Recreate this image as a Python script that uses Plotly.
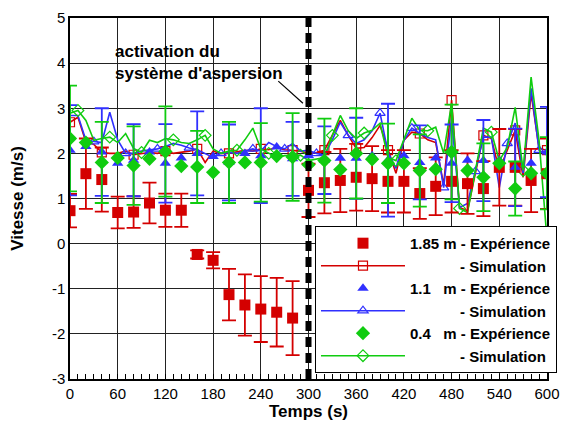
import plotly.graph_objects as go

# ---------------- data ----------------
t_exp = list(range(0, 601, 20))
t_err = list(range(0, 601, 40))
t_sim = list(range(0, 601, 10))

red_exp = [0.73, 1.55, 1.42, 0.69, 0.70, 0.90, 0.74, 0.74, -0.24, -0.37, -1.13, -1.36, -1.45, -1.52, -1.65,
           1.18, 1.35, 1.40, 1.47, 1.44, 1.38, 1.38, 1.11, 1.27, 1.38, 1.33, 1.22, 1.69, 1.69, 1.40, 1.55]
red_err = [0.37, 0.78, 0.71, 0.35, 0.35, 0.45, 0.37, 0.37, 0.09, 0.18, 0.57, 0.68, 0.73, 0.76, 0.82,
           0.59, 0.68, 0.70, 0.74, 0.72, 0.69, 0.69, 0.56, 0.64, 0.69, 0.67, 0.61, 0.85, 0.85, 0.70, 0.78]

blue_exp = [2.07, 2.15, 2.03, 1.78, 1.85, 2.03, 1.78, 1.90, 2.00, 1.93, 1.80, 2.00, 1.95, 2.14, 1.88,
            1.95, 1.85, 1.89, 1.89, 1.95, 1.85, 1.95, 1.80, 1.90, 1.78, 1.85, 1.84, 1.85, 1.69, 1.78, 2.03]
blue_err_y = [2.07, 2.03, 1.85, 1.78, 2.00, 1.80, 1.95, 1.88, 1.85, 1.89, 1.85, 1.80, 1.78, 1.84, 1.69, 2.03]
blue_err = [1.00, 0.97, 0.80, 0.87, 0.93, 0.84, 1.05, 0.82, 0.75, 0.90, 1.25, 0.82, 0.86, 0.90, 0.86, 1.00]

green_exp = [2.33, 2.24, 1.80, 1.90, 1.73, 1.88, 2.04, 1.72, 1.70, 1.58, 1.80, 1.80, 1.80, 1.94, 1.92,
             1.75, 1.84, 1.64, 2.00, 1.87, 1.78, 1.78, 1.62, 1.65, 2.03, 1.62, 1.47, 1.78, 1.22, 1.56, 1.56]
green_err_y = [2.33, 1.80, 1.73, 2.04, 1.70, 1.80, 1.80, 1.92, 1.84, 2.00, 1.78, 1.62, 2.03, 1.47, 1.22, 1.56]
green_err = [1.17, 0.90, 0.87, 1.00, 0.80, 0.90, 0.87, 0.97, 0.93, 1.00, 0.88, 0.80, 1.05, 0.75, 0.60, 0.80]

red_sim = [2.69, 2.80, 2.25, 2.20, 2.02, 2.00, 2.00, 2.05, 1.97, 2.00, 2.02, 2.00, 2.05, 2.00, 2.02, 2.05,
           2.10, 1.80, 2.05, 2.00, 2.00, 2.03, 2.07, 2.05, 2.10, 2.08, 2.13, 2.08, 2.07, 2.05, 2.00, 2.02,
           2.07, 2.40, 2.73, 2.40, 2.11, 2.13, 2.35, 2.62, 2.07, 1.56, 2.29, 2.47, 2.44, 2.30, 2.24, 1.30,
           3.18, 0.80, 0.73, 1.60, 2.40, 2.33, 1.62, 2.07, 2.51, 1.47, 3.33, 2.11, 2.07]
blue_sim = [2.84, 2.84, 2.29, 2.26, 2.24, 2.91, 2.30, 2.00, 2.00, 2.05, 2.07, 2.10, 2.15, 2.22, 2.18, 2.12,
            2.08, 2.00, 1.91, 2.00, 2.02, 2.00, 2.05, 2.10, 2.05, 2.24, 2.15, 2.10, 2.22, 2.05, 2.07, 2.00,
            1.96, 2.30, 2.69, 2.40, 2.22, 2.30, 2.50, 2.89, 2.02, 1.67, 2.29, 2.56, 2.44, 2.35, 2.30, 1.24,
            2.78, 0.80, 0.89, 1.60, 2.36, 2.36, 1.24, 2.22, 2.67, 1.56, 3.44, 2.07, 1.96]
green_sim = [2.89, 2.95, 2.73, 2.29, 2.33, 2.36, 2.24, 2.44, 2.11, 2.02, 2.29, 2.24, 2.33, 2.30, 2.24, 2.22,
             2.30, 2.40, 2.10, 2.00, 2.05, 2.07, 2.30, 2.56, 2.10, 2.00, 1.91, 1.95, 1.96, 1.96, 1.84, 1.88,
             1.91, 2.40, 2.84, 2.50, 2.33, 2.45, 2.51, 2.67, 1.91, 1.84, 2.30, 2.78, 2.51, 2.50, 2.58, 2.00,
             3.11, 0.78, 0.69, 1.60, 2.56, 2.47, 1.84, 2.13, 3.02, 1.62, 3.69, 2.29, 0.10]

x_ticks = [0, 60, 120, 180, 240, 300, 360, 420, 480, 540, 600]
y_ticks = [-3, -2, -1, 0, 1, 2, 3, 4, 5]

RED = "#d40000"
BLUE = "#3030ff"
GREEN = "#10cc10"
NB = "\u00a0"

lab_red_e = "1.85 m - Expérience"
lab_blue_e = "1.1" + NB * 3 + "m - Expérience"
lab_green_e = "0.4" + NB * 3 + "m - Expérience"
lab_sim = NB * 12 + "- Simulation"

fig = go.Figure()

# simulation lines
for ys, col, sym, lab, rank in [(red_sim, RED, "square-open", lab_sim, 2),
                                 (blue_sim, BLUE, "triangle-up-open", lab_sim, 4),
                                 (green_sim, GREEN, "diamond-open", lab_sim, 6)]:
    fig.add_trace(go.Scatter(x=t_sim, y=ys, mode="lines+markers", name=lab, legendrank=rank,
                             line=dict(color=col, width=1.6),
                             marker=dict(symbol=sym, size=9, color=col, maxdisplayed=16,
                                         line=dict(width=1.2, color=col))))

# red experiment with error bars
fig.add_trace(go.Scatter(x=t_exp, y=red_exp, mode="markers", name=lab_red_e, legendrank=1,
                         marker=dict(symbol="square", size=11, color=RED),
                         error_y=dict(type="data", array=red_err, color=RED, thickness=1.8, width=7)))

# blue experiment
fig.add_trace(go.Scatter(x=t_err, y=blue_err_y, mode="markers", showlegend=False, hoverinfo="skip",
                         marker=dict(size=0.1, color=BLUE, opacity=0),
                         error_y=dict(type="data", array=blue_err, color=BLUE, thickness=1.8, width=7)))
fig.add_trace(go.Scatter(x=t_exp, y=blue_exp, mode="markers", name=lab_blue_e, legendrank=3,
                         marker=dict(symbol="triangle-up", size=10, color=BLUE)))

# green experiment
fig.add_trace(go.Scatter(x=t_err, y=green_err_y, mode="markers", showlegend=False, hoverinfo="skip",
                         marker=dict(size=0.1, color=GREEN, opacity=0),
                         error_y=dict(type="data", array=green_err, color=GREEN, thickness=1.8, width=7)))
fig.add_trace(go.Scatter(x=t_exp, y=green_exp, mode="markers", name=lab_green_e, legendrank=5,
                         marker=dict(symbol="diamond", size=11, color=GREEN)))

# activation line
fig.add_shape(type="line", xref="x", yref="y", x0=300, x1=300, y0=-3, y1=5, layer="above",
              line=dict(color="black", width=6, dash="10px,6px"))
fig.add_shape(type="line", xref="x", yref="y", x0=262, y0=3.6, x1=293, y1=3.11,
              line=dict(color="black", width=1.2))
fig.add_annotation(x=54, y=4.01, xref="x", yref="y",
                   text="<b>activation du<br>système d'aspersion</b>", showarrow=False,
                   xanchor="left", yanchor="middle", align="left",
                   font=dict(size=17, color="black"))

fig.update_layout(
    width=572, height=422,
    margin=dict(l=62, r=33, t=10, b=51, autoexpand=False),
    paper_bgcolor="white", plot_bgcolor="white",
    font=dict(family="Liberation Sans, Arial, sans-serif", color="black"),
    showlegend=True,
    legend=dict(x=0.5136, y=0.424, xanchor="left", yanchor="top",
                bgcolor="white", bordercolor="black", borderwidth=1,
                font=dict(size=15, color="black", weight="bold"),
                itemwidth=84, tracegroupgap=0),
    xaxis=dict(range=[0, 600], tickvals=x_ticks, ticktext=[str(v) for v in x_ticks],
               showgrid=True, gridcolor="#222", gridwidth=1, automargin=False,
               showline=True, linecolor="black", linewidth=1.5, mirror=True,
               ticks="inside", ticklen=5, tickcolor="black",
               minor=dict(dtick=10, ticks="inside", ticklen=5, tickcolor="black", showgrid=False),
               tickfont=dict(size=15), zeroline=False,
               title=dict(text="<b>Temps (s)</b>", font=dict(size=17), standoff=4)),
    yaxis=dict(range=[-3, 5], tickvals=y_ticks, ticktext=[str(v) for v in y_ticks],
               showgrid=True, gridcolor="#222", gridwidth=1, automargin=False,
               showline=True, linecolor="black", linewidth=1.5, mirror=True,
               ticks="", tickfont=dict(size=15), zeroline=False,
               title=dict(text="<b>Vitesse (m/s)</b>", font=dict(size=17), standoff=25)),
)

fig.write_html("out.html")
